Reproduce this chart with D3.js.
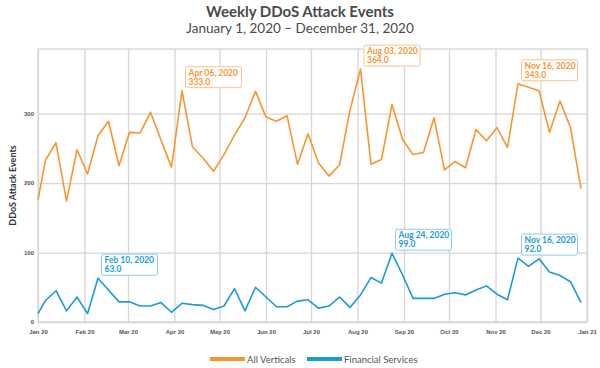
<!DOCTYPE html>
<html>
<head>
<meta charset="utf-8">
<script src="https://cdn.jsdelivr.net/npm/d3@7"></script>
<style>
  body { margin: 0; background: #fff; }
  svg { font-family: Lato, "Open Sans", sans-serif; }
  .tick text { fill: #555; font-size: 6px; font-weight: 700; }
</style>
</head>
<body>
<div id="chart"></div>
<script>
const weeks = [
  "2020-01-01","2020-01-06","2020-01-13","2020-01-20","2020-01-27",
  "2020-02-03","2020-02-10","2020-02-17","2020-02-24",
  "2020-03-02","2020-03-09","2020-03-16","2020-03-23","2020-03-30",
  "2020-04-06","2020-04-13","2020-04-20","2020-04-27",
  "2020-05-04","2020-05-11","2020-05-18","2020-05-25",
  "2020-06-01","2020-06-08","2020-06-15","2020-06-22","2020-06-29",
  "2020-07-06","2020-07-13","2020-07-20","2020-07-27",
  "2020-08-03","2020-08-10","2020-08-17","2020-08-24","2020-08-31",
  "2020-09-07","2020-09-14","2020-09-21","2020-09-28",
  "2020-10-05","2020-10-12","2020-10-19","2020-10-26",
  "2020-11-02","2020-11-09","2020-11-16","2020-11-23","2020-11-30",
  "2020-12-07","2020-12-14","2020-12-21","2020-12-28"
];

const allVerticals = [
  176, 233, 258, 174, 248, 213, 268, 289, 225, 273, 272, 302, 262, 223,
  333, 252, 236, 217, 241, 269, 294, 332, 295, 289, 297, 227, 271, 229,
  210, 226, 305, 364, 227, 234, 313, 263, 241, 244, 294, 219, 231, 222,
  277, 261, 280, 251, 343, 338, 333, 273, 318, 280, 192
];

const financialServices = [
  12, 31, 45, 16, 36, 12, 63, 46, 29, 29, 23, 23, 28, 14,
  27, 25, 24, 18, 23, 48, 16, 50, 36, 22, 22, 30, 32, 20,
  23, 36, 21, 39, 64, 56, 99, 68, 34, 34, 34, 40, 42, 39,
  46, 52, 40, 32, 92, 80, 91, 72, 67, 58, 28
];

const seriesNames = ["All Verticals", "Financial Services"];
const seriesColors = ["#f7962f", "#1a9ad8"];
const boxColors = ["#fbc48a", "#8ccbee"];
const yTickValues = [0, 100, 200, 300];

// annotated peaks: [series index, week]
const callouts = [
  [0, "2020-04-06"], [0, "2020-08-03"], [0, "2020-11-16"],
  [1, "2020-02-10"], [1, "2020-08-24"], [1, "2020-11-16"]
];

const width = 600, height = 368;
const margin = {left: 38, right: 13, top: 49, bottom: 46};
const parse = d3.timeParse("%Y-%m-%d");
const dates = weeks.map(parse);
const seriesValues = [allVerticals, financialServices];

const svg = d3.select('#chart').append('svg')
  .attr('width', width)
  .attr('height', height);

const xScale = d3.scaleTime()
  .domain([new Date(2020,0,1), new Date(2021,0,1)])
  .range([margin.left, width - margin.right]);

const yScale = d3.scaleLinear()
  .domain([0, 393])
  .range([height - margin.bottom, margin.top]);

// title
svg.append('text')
  .attr('x', 300).attr('y', 17)
  .attr('text-anchor', 'middle')
  .style('font-size', '15px').style('font-weight', 700).style('fill', '#4a4a4a')
  .text('Weekly DDoS Attack Events');
svg.append('text')
  .attr('x', 300).attr('y', 33)
  .attr('text-anchor', 'middle')
  .style('font-size', '13.5px').style('fill', '#4a4a4a')
  .text('January 1, 2020 \u2013 December 31, 2020');

// plot frame
svg.append('rect')
  .attr('x', margin.left).attr('y', margin.top)
  .attr('width', width - margin.left - margin.right)
  .attr('height', height - margin.top - margin.bottom)
  .attr('fill', 'none').attr('stroke', '#d6d6d6').attr('stroke-width', 1.3);

const xAxis = d3.axisBottom(xScale)
  .ticks(d3.timeMonth.every(1))
  .tickFormat(d3.timeFormat('%b %y'))
  .tickSize(-(height - margin.top - margin.bottom))
  .tickPadding(8);

const yAxis = d3.axisLeft(yScale)
  .tickValues(yTickValues)
  .tickSize(-(width - margin.left - margin.right))
  .tickPadding(4);

const xAxisG = svg.append('g')
  .attr('transform', `translate(0,${height - margin.bottom})`)
  .call(xAxis);
const yAxisG = svg.append('g')
  .attr('transform', `translate(${margin.left},0)`)
  .call(yAxis);

[xAxisG, yAxisG].forEach(g => {
  g.select('.domain').remove();
  g.selectAll('.tick line').attr('stroke', '#d6d6d6').attr('stroke-width', 1.3);
});

svg.append('text')
  .attr('transform', `translate(16,${(margin.top + height - margin.bottom) / 2}) rotate(-90)`)
  .attr('text-anchor', 'middle')
  .style('font-size', '9px').style('font-weight', 700).style('fill', '#333')
  .text('DDoS Attack Events');

const line = d3.line()
  .x((d, i) => xScale(dates[i]))
  .y(d => yScale(d));

seriesValues.forEach((vals, s) => {
  svg.append('path')
    .attr('d', line(vals))
    .attr('fill', 'none')
    .attr('stroke', seriesColors[s])
    .attr('stroke-width', 1.6)
    .attr('stroke-linejoin', 'round');
});

// callout boxes
const fmtDate = d3.timeFormat('%b %d, %Y');
callouts.forEach(([s, wk]) => {
  const i = weeks.indexOf(wk);
  const px = xScale(dates[i]), py = yScale(seriesValues[s][i]);
  const g = svg.append('g').attr('transform', `translate(${px + 3.5},${py - 24})`);
  g.append('rect')
    .attr('width', 56).attr('height', 21).attr('rx', 2)
    .attr('fill', '#fff').attr('stroke', boxColors[s]).attr('stroke-width', 1);
  g.append('text')
    .attr('x', 3).attr('y', 9)
    .style('font-size', '8.5px').style('font-weight', 700).style('fill', seriesColors[s])
    .text(fmtDate(dates[i]));
  g.append('text')
    .attr('x', 3).attr('y', 18)
    .style('font-size', '8.5px').style('font-weight', 700).style('fill', seriesColors[s])
    .text(seriesValues[s][i].toFixed(1));
});

// legend
const legendX = [210, 307];
seriesNames.forEach((name, s) => {
  svg.append('line')
    .attr('x1', legendX[s]).attr('x2', legendX[s] + 35)
    .attr('y1', 359).attr('y2', 359)
    .attr('stroke', seriesColors[s]).attr('stroke-width', 4);
  svg.append('text')
    .attr('x', legendX[s] + 37).attr('y', 362.5)
    .style('font-size', '9.5px').style('fill', '#555')
    .text(name);
});
</script>
</body>
</html>
